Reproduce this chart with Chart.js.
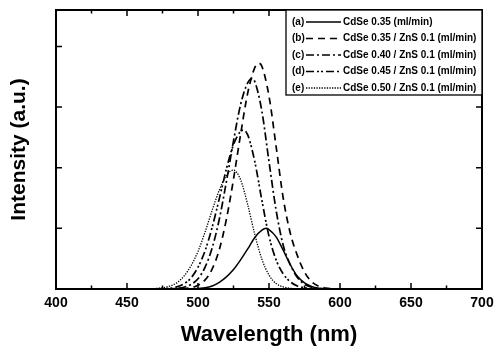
<!DOCTYPE html>
<html>
<head>
<meta charset="utf-8">
<script src="https://cdn.jsdelivr.net/npm/chart.js@4/dist/chart.umd.min.js"></script>
<style>
  html, body { margin: 0; padding: 0; background: #fff; }
  #wrap { width: 500px; height: 350px; }
</style>
</head>
<body>
<div id="wrap"><canvas id="plChart"></canvas></div>
<script>
// emission spectra, wavelength in nm, intensity in a.u.
const waveA = [495, 500, 505, 510, 515, 520, 525, 530, 535, 540, 545, 548, 550, 555, 560, 565, 570, 575, 580, 585, 590, 600];
const intA  = [0, 0.01, 0.02, 0.05, 0.11, 0.2, 0.32, 0.48, 0.66, 0.85, 0.97, 1.0, 0.98, 0.86, 0.64, 0.4, 0.21, 0.1, 0.04, 0.012, 0.003, 0];

const waveB = [480, 485, 490, 495, 500, 505, 510, 515, 520, 525, 530, 535, 540, 543, 545, 550, 555, 560, 565, 570, 575, 580, 585, 590, 595, 600];
const intB  = [0, 0.002, 0.007, 0.022, 0.06, 0.15, 0.33, 0.65, 1.15, 1.81, 2.55, 3.23, 3.65, 3.72, 3.67, 3.18, 2.35, 1.5, 0.92, 0.55, 0.28, 0.12, 0.045, 0.015, 0.004, 0];

const waveC = [475, 480, 485, 490, 495, 500, 505, 510, 515, 520, 525, 530, 535, 538, 540, 545, 550, 555, 560, 565, 570, 575, 580, 585, 590];
const intC  = [0.001, 0.003, 0.01, 0.029, 0.074, 0.17, 0.36, 0.68, 1.15, 1.77, 2.44, 3.04, 3.4, 3.47, 3.42, 2.93, 2.1, 1.3, 0.72, 0.4, 0.19, 0.08, 0.03, 0.01, 0];

const waveD = [470, 475, 480, 485, 490, 495, 500, 505, 510, 515, 520, 525, 530, 532, 535, 540, 545, 550, 555, 560, 565, 570, 575, 580, 585];
const intD  = [0.002, 0.005, 0.013, 0.035, 0.084, 0.18, 0.36, 0.63, 1.02, 1.49, 1.98, 2.38, 2.6, 2.62, 2.54, 2.1, 1.46, 0.87, 0.48, 0.25, 0.12, 0.05, 0.02, 0.006, 0];

const waveE = [465, 470, 475, 480, 485, 490, 495, 500, 505, 510, 515, 520, 525, 530, 535, 540, 545, 550, 555, 560, 565, 570, 575];
const intE  = [0.003, 0.008, 0.02, 0.048, 0.1, 0.21, 0.38, 0.62, 0.94, 1.3, 1.63, 1.87, 1.96, 1.8, 1.39, 0.9, 0.49, 0.23, 0.09, 0.035, 0.012, 0.004, 0];

const tags = ["(a)", "(b)", "(c)", "(d)", "(e)"];
const labels = [
  "CdSe 0.35 (ml/min)",
  "CdSe 0.35 / ZnS 0.1 (ml/min)",
  "CdSe 0.40 / ZnS 0.1 (ml/min)",
  "CdSe 0.45 / ZnS 0.1 (ml/min)",
  "CdSe 0.50 / ZnS 0.1 (ml/min)"
];

const FONT = "'Liberation Sans', Arial, Helvetica, sans-serif";

function pts(xs, ys) {
  return xs.map((x, i) => ({x: x, y: ys[i]}));
}

function series(i, xs, ys, dash, width) {
  return {
    label: labels[i],
    data: pts(xs, ys),
    borderColor: '#000',
    borderWidth: width,
    borderDash: dash,
    pointRadius: 0,
    fill: false,
    cubicInterpolationMode: 'monotone'
  };
}

// frame with inward ticks on all four sides + boxed legend inside the plot
const framePlugin = {
  id: 'frame',
  afterDatasetsDraw(chart) {
    const ctx = chart.ctx;
    const a = chart.chartArea;
    const xs = chart.scales.x, ys = chart.scales.y;
    ctx.save();
    ctx.strokeStyle = '#000';
    ctx.lineWidth = 2;
    ctx.setLineDash([]);
    ctx.strokeRect(a.left, a.top, a.right - a.left, a.bottom - a.top);

    ctx.lineWidth = 1.5;
    ctx.beginPath();
    xs.ticks.forEach((t, i) => {
      const px = xs.getPixelForValue(t.value);
      if (t.value > xs.min && t.value < xs.max) {
        ctx.moveTo(px, a.bottom); ctx.lineTo(px, a.bottom - 6);
        ctx.moveTo(px, a.top); ctx.lineTo(px, a.top + 6);
      }
      if (i < xs.ticks.length - 1) {
        const mid = (t.value + xs.ticks[i + 1].value) / 2;
        const pm = xs.getPixelForValue(mid);
        ctx.moveTo(pm, a.bottom); ctx.lineTo(pm, a.bottom - 3.5);
        ctx.moveTo(pm, a.top); ctx.lineTo(pm, a.top + 3.5);
      }
    });
    ys.ticks.forEach(t => {
      if (t.value <= ys.min || t.value >= ys.max) return;
      const py = ys.getPixelForValue(t.value);
      ctx.moveTo(a.left, py); ctx.lineTo(a.left + 6, py);
      ctx.moveTo(a.right, py); ctx.lineTo(a.right - 6, py);
    });
    ctx.stroke();

    // legend
    const boxW = 196, boxH = 85;
    const bx = a.right - boxW, by = a.top;
    ctx.fillStyle = '#fff';
    ctx.fillRect(bx, by, boxW, boxH);
    ctx.lineWidth = 1.3;
    ctx.strokeRect(bx, by, boxW, boxH);
    ctx.font = 'bold 10px ' + FONT;
    ctx.fillStyle = '#000';
    ctx.textBaseline = 'middle';
    chart.data.datasets.forEach((ds, i) => {
      const ry = by + 12 + i * 16.5;
      ctx.fillText(tags[i], bx + 6, ry);
      ctx.beginPath();
      ctx.lineWidth = ds.borderWidth;
      ctx.setLineDash(ds.borderDash || []);
      ctx.moveTo(bx + 20, ry);
      ctx.lineTo(bx + 55, ry);
      ctx.stroke();
      ctx.setLineDash([]);
      ctx.fillText(ds.label, bx + 57, ry);
    });
    ctx.restore();
  }
};

new Chart(document.getElementById('plChart'), {
  type: 'line',
  data: {
    datasets: [
      series(0, waveA, intA, [], 1.5),
      series(1, waveB, intB, [7, 5], 1.7),
      series(2, waveC, intC, [8, 3, 2, 3], 1.7),
      series(3, waveD, intD, [8, 3, 2, 2, 2, 3], 1.7),
      series(4, waveE, intE, [1.3, 1.3], 1.3)
    ]
  },
  options: {
    responsive: true,
    maintainAspectRatio: false,
    animation: false,
    layout: { padding: { top: 10, right: 18, left: 0, bottom: 0 } },
    plugins: {
      legend: { display: false },
      tooltip: { enabled: false }
    },
    scales: {
      x: {
        type: 'linear',
        min: 400,
        max: 700,
        grid: { display: false },
        border: { display: false },
        ticks: {
          stepSize: 50,
          color: '#000',
          padding: -2,
          maxRotation: 0,
          font: { family: FONT, size: 14, weight: 'bold' }
        },
        title: {
          display: true,
          text: 'Wavelength (nm)',
          color: '#000',
          padding: { top: 0, bottom: 2 },
          font: { family: FONT, size: 22, weight: 'bold' }
        },
        afterFit(scale) { scale.height = 61; }
      },
      y: {
        min: 0,
        max: 4.6,
        grid: { display: false },
        border: { display: false },
        ticks: { stepSize: 1, display: false },
        title: {
          display: true,
          text: 'Intensity (a.u.)',
          color: '#000',
          padding: { top: 7, bottom: 0 },
          font: { family: FONT, size: 21, weight: 'bold' }
        },
        afterFit(scale) { scale.width = 56; }
      }
    }
  },
  plugins: [framePlugin]
});
</script>
</body>
</html>
